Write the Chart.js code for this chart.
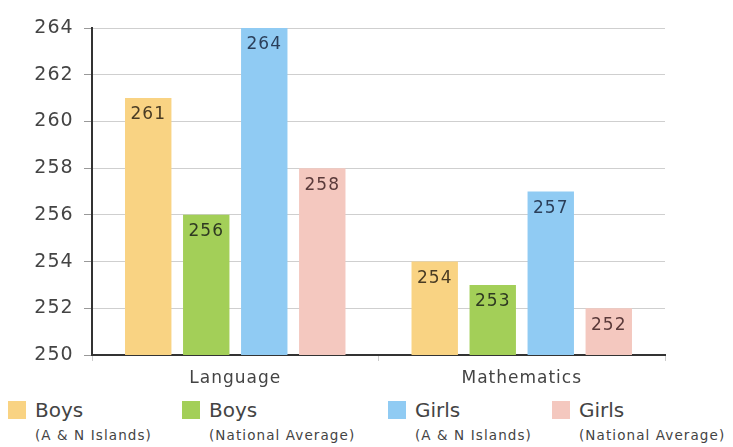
<!DOCTYPE html>
<html>
<head>
<meta charset="utf-8">
<script src="https://cdn.jsdelivr.net/npm/chart.js@4.4.1/dist/chart.umd.min.js"></script>
<style>
    body { margin: 0; background: #fff; font-family: "DejaVu Sans", sans-serif; }
    #wrap { position: relative; width: 733px; height: 447px; }
    #chartBox { position: absolute; left: 0; top: 0; width: 733px; height: 392px; }
    .leg { position: absolute; top: 398px; color: #444; }
    .leg .sw { position: absolute; left: 0; top: 3px; width: 18px; height: 18px; }
    .leg .t1 { position: absolute; left: 27px; top: 0; font-size: 20px; white-space: nowrap; }
    .leg .t2 { position: absolute; left: 27px; top: 29px; font-size: 13.5px; letter-spacing: 1.1px; white-space: nowrap; }
</style>
</head>
<body>
<div id="wrap">
    <div id="chartBox"><canvas id="grafico"></canvas></div>
    <div id="leyenda"></div>
</div>
<script>
// Datos
const categories = ['Language', 'Mathematics'];
const boysAN = [261, 254];
const boysNational = [256, 253];
const girlsAN = [264, 257];
const girlsNational = [258, 252];
const yTicks = [250, 252, 254, 256, 258, 260, 262, 264];

const seriesNames = [
    ['Boys', '(A & N Islands)'],
    ['Boys', '(National Average)'],
    ['Girls', '(A & N Islands)'],
    ['Girls', '(National Average)']
];
const colors = ['#f9d383', '#a3cf58', '#90cbf3', '#f4c8bf'];
const labelColors = ['#4a3c24', '#2f3a22', '#2b3f5a', '#5a3a3a'];
const legendX = [8, 182, 388, 552];
const FONT = '"DejaVu Sans", sans-serif';

// Espaciado de letras para todo el texto del canvas
const letterSpacing = {
    id: 'letterSpacing',
    beforeDraw(chart) { chart.ctx.letterSpacing = '1px'; }
};

// Etiquetas del eje Y (centradas: la alineación a la derecha se desplaza en este entorno)
const yLabels = {
    id: 'yLabels',
    afterDraw(chart) {
        const ctx = chart.ctx;
        const scale = chart.scales.y;
        ctx.save();
        ctx.font = `19px ${FONT}`;
        ctx.fillStyle = '#444';
        ctx.textAlign = 'center';
        ctx.textBaseline = 'middle';
        scale.ticks.forEach(t => {
            ctx.fillText(String(t.value), chart.chartArea.left - 38, scale.getPixelForValue(t.value));
        });
        ctx.restore();
    }
};

// Etiquetas de valor dentro de las barras
const valueLabels = {
    id: 'valueLabels',
    afterDatasetsDraw(chart) {
        const ctx = chart.ctx;
        ctx.save();
        ctx.font = `17px ${FONT}`;
        ctx.textAlign = 'center';
        ctx.textBaseline = 'middle';
        chart.data.datasets.forEach((ds, i) => {
            chart.getDatasetMeta(i).data.forEach((bar, j) => {
                ctx.fillStyle = labelColors[i];
                ctx.fillText(String(ds.data[j]), bar.x, bar.y + 17);
            });
        });
        ctx.restore();
    }
};

const datasets = [boysAN, boysNational, girlsAN, girlsNational].map((data, i) => ({
    label: seriesNames[i].join(' '),
    data,
    backgroundColor: colors[i],
    borderWidth: 0,
    categoryPercentage: 0.81,
    barPercentage: 0.8
}));

new Chart(document.getElementById('grafico'), {
    type: 'bar',
    data: { labels: categories, datasets },
    options: {
        responsive: true,
        maintainAspectRatio: false,
        animation: false,
        layout: { padding: { top: 28, right: 68, left: 33, bottom: 0 } },
        plugins: { legend: { display: false }, tooltip: { enabled: false } },
        scales: {
            y: {
                min: 250,
                max: 264,
                afterBuildTicks: (scale) => { scale.ticks = yTicks.map(v => ({ value: v })); },
                afterFit: (scale) => { scale.width = 59; },
                border: { color: '#333', width: 2 },
                grid: { color: '#cfcfcf', tickColor: '#999', tickLength: 8 },
                ticks: { display: false }
            },
            x: {
                afterFit: (scale) => { scale.height = 37; },
                border: { color: '#333', width: 2 },
                grid: { drawOnChartArea: false, color: '#ccc', tickLength: 6 },
                ticks: {
                    color: '#444',
                    padding: 7,
                    font: { size: 17, family: FONT }
                }
            }
        }
    },
    plugins: [letterSpacing, yLabels, valueLabels]
});

// Leyenda HTML con texto en dos líneas
const leyenda = document.getElementById('leyenda');
leyenda.innerHTML = seriesNames.map(([t1, t2], i) => `
    <div class="leg" style="left:${legendX[i]}px">
        <div class="sw" style="background:${colors[i]}"></div>
        <div class="t1">${t1}</div>
        <div class="t2">${t2}</div>
    </div>`).join('');
</script>
</body>
</html>
